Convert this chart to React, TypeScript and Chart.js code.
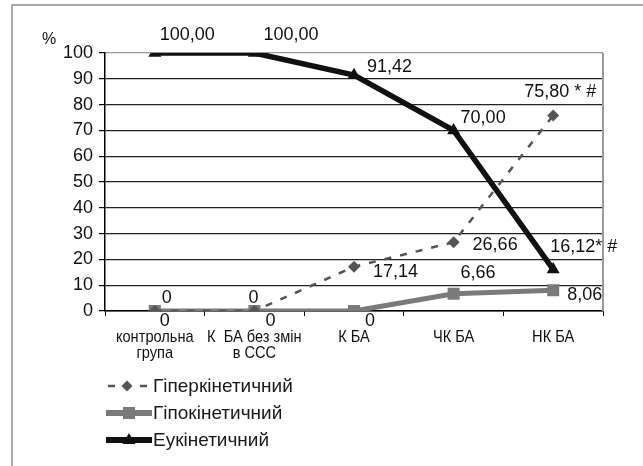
import React, { useEffect, useRef } from 'react';
import { Chart, registerables } from 'chart.js';

Chart.register(...registerables);

// ---- data ----
const categories: (string | string[])[] = [
  ['контрольна', 'група'],
  ['К  БА без змін', 'в ССС'],
  'К БА',
  'ЧК БА',
  'НК БА',
];
const seriesNames = ['Гіперкінетичний', 'Гіпокінетичний', 'Еукінетичний'];
const hyperValues = [0, 0, 17.14, 26.66, 75.8];
const hypoValues = [0, 0, 0, 6.66, 8.06];
const euValues = [100, 100, 91.42, 70.0, 16.12];
const hyperLabels = ['0', '0', '17,14', '26,66', '75,80 * #'];
const hypoLabels = ['0', '0', '0', '6,66', '8,06'];
const euLabels = ['100,00', '100,00', '91,42', '70,00', '16,12* #'];
const yMin = 0;
const yMax = 100;
const yStep = 10;
const yUnit = '%';

// ---- label placement (relative to each point: left edge dx, middle dy) ----
const labelSets = [hyperLabels, hypoLabels, euLabels];
const labelOffsets: number[][][] = [
  [[7, -13], [-6, -13], [19, 5], [19, 3], [-29, -23]],
  [[5, 10], [11, 10], [11, 10], [7, -21], [14, 5]],
  [[5, -18], [9, -18], [13, -8], [7, -12], [-3, -22]],
];

const FONT = '"Liberation Sans", Arial, Helvetica, sans-serif';

const colors = { hyper: '#555555', hypo: '#7a7a7a', eu: '#111111' };

const framePlugin = {
  id: 'frame',
  beforeDraw(chart: any) {
    const ctx = chart.ctx;
    ctx.save();
    ctx.fillStyle = '#ffffff';
    ctx.fillRect(0, 0, chart.width, chart.height);
    ctx.strokeStyle = '#a8a8a8';
    ctx.lineWidth = 2;
    ctx.beginPath();
    ctx.moveTo(12, chart.height);
    ctx.lineTo(12, 5);
    ctx.lineTo(chart.width, 5);
    ctx.stroke();
    ctx.restore();
  },
  beforeDatasetsDraw(chart: any) {
    const { ctx, chartArea } = chart;
    ctx.save();
    ctx.strokeStyle = '#9a9a9a';
    ctx.lineWidth = 2;
    ctx.beginPath();
    ctx.moveTo(chartArea.right, chartArea.top);
    ctx.lineTo(chartArea.right, chartArea.bottom);
    ctx.stroke();
    ctx.restore();
  },
};

// condensed category labels under the x axis
const xLabelPlugin = {
  id: 'xLabels',
  afterDraw(chart: any) {
    const ctx = chart.ctx;
    const xs = chart.scales.x;
    const base = chart.chartArea.bottom;
    ctx.save();
    ctx.font = '17px ' + FONT;
    ctx.fillStyle = '#111';
    ctx.textAlign = 'center';
    ctx.textBaseline = 'alphabetic';
    (chart.data.labels as any[]).forEach((lab, i) => {
      const lines = Array.isArray(lab) ? lab : [lab];
      const x = xs.getPixelForTick(i);
      lines.forEach((ln: string, j: number) => {
        ctx.save();
        ctx.translate(x, base + 31 + j * 15.5);
        ctx.scale(0.86, 1);
        ctx.fillText(ln, 0, 0);
        ctx.restore();
      });
    });
    ctx.restore();
  },
};

const pointLabelPlugin = {
  id: 'pointLabels',
  afterDatasetsDraw(chart: any) {
    const ctx = chart.ctx;
    ctx.save();
    ctx.font = '18px ' + FONT;
    ctx.fillStyle = '#111';
    ctx.textAlign = 'left';
    ctx.textBaseline = 'middle';
    chart.data.datasets.forEach((_ds: any, di: number) => {
      const meta = chart.getDatasetMeta(di);
      meta.data.forEach((pt: any, i: number) => {
        const off = labelOffsets[di][i];
        ctx.fillText(labelSets[di][i], pt.x + off[0], pt.y + off[1]);
      });
    });
    ctx.restore();
  },
};

const legendPlugin = {
  id: 'customLegend',
  afterDraw(chart: any) {
    const ctx = chart.ctx;
    const yScale = chart.scales.y;
    ctx.save();
    // unit label
    ctx.font = '16px ' + FONT;
    ctx.fillStyle = '#111';
    ctx.textAlign = 'left';
    ctx.textBaseline = 'middle';
    ctx.fillText(yUnit, 42, yScale.top - 13);

    const rowY = [386, 413, 440];
    // row 1: dashed + diamond
    ctx.strokeStyle = colors.hyper;
    ctx.lineWidth = 2.5;
    ctx.setLineDash([7, 25]);
    ctx.beginPath();
    ctx.moveTo(108, rowY[0]);
    ctx.lineTo(148, rowY[0]);
    ctx.stroke();
    ctx.setLineDash([]);
    ctx.fillStyle = colors.hyper;
    ctx.beginPath();
    ctx.moveTo(127 - 5.5, rowY[0]);
    ctx.lineTo(127, rowY[0] - 5.5);
    ctx.lineTo(127 + 5.5, rowY[0]);
    ctx.lineTo(127, rowY[0] + 5.5);
    ctx.closePath();
    ctx.fill();
    // row 2: thick gray + square
    ctx.strokeStyle = colors.hypo;
    ctx.lineWidth = 6;
    ctx.beginPath();
    ctx.moveTo(106, rowY[1]);
    ctx.lineTo(152, rowY[1]);
    ctx.stroke();
    ctx.fillStyle = colors.hypo;
    ctx.fillRect(129 - 6, rowY[1] - 6, 12, 12);
    // row 3: thick black + triangle
    ctx.strokeStyle = colors.eu;
    ctx.beginPath();
    ctx.moveTo(106, rowY[2]);
    ctx.lineTo(152, rowY[2]);
    ctx.stroke();
    ctx.fillStyle = colors.eu;
    ctx.beginPath();
    ctx.moveTo(129, rowY[2] - 7);
    ctx.lineTo(129 + 6.5, rowY[2] + 4);
    ctx.lineTo(129 - 6.5, rowY[2] + 4);
    ctx.closePath();
    ctx.fill();

    ctx.font = '19px ' + FONT;
    ctx.fillStyle = '#1a1a1a';
    seriesNames.forEach((n, i) => ctx.fillText(n, 153, rowY[i] + 1));
    ctx.restore();
  },
};

export default function App() {
  const ref = useRef<HTMLCanvasElement | null>(null);

  useEffect(() => {
    if (!ref.current) return;
    const chart = new Chart(ref.current, {
      type: 'line',
      data: {
        labels: categories as any,
        datasets: [
          {
            label: seriesNames[0],
            data: hyperValues,
            borderColor: colors.hyper,
            backgroundColor: colors.hyper,
            borderWidth: 2.5,
            borderDash: [7, 9],
            pointStyle: 'rectRot',
            pointRadius: 6,
            pointBorderWidth: 0,
            pointBackgroundColor: colors.hyper,
            tension: 0,
            fill: false,
          },
          {
            label: seriesNames[1],
            data: hypoValues,
            borderColor: colors.hypo,
            backgroundColor: colors.hypo,
            borderWidth: 5,
            pointStyle: 'rect',
            pointRadius: 8.5,
            pointBorderWidth: 0,
            pointBackgroundColor: colors.hypo,
            tension: 0,
            fill: false,
          },
          {
            label: seriesNames[2],
            data: euValues,
            borderColor: colors.eu,
            backgroundColor: colors.eu,
            borderWidth: 5.5,
            pointStyle: 'triangle',
            pointRadius: 7.5,
            pointBorderWidth: 0,
            pointBackgroundColor: colors.eu,
            tension: 0,
            fill: false,
          },
        ],
      },
      options: {
        animation: false,
        responsive: false,
        devicePixelRatio: 1,
        layout: { padding: { left: 0, top: 53, right: 40, bottom: 0 } },
        plugins: {
          legend: { display: false },
          tooltip: { enabled: false },
          title: { display: false },
        },
        scales: {
          x: {
            type: 'category',
            offset: true,
            grid: {
              display: true,
              drawOnChartArea: false,
              drawTicks: true,
              tickLength: 5,
              offset: true,
              color: '#000',
              lineWidth: 1,
            },
            border: { display: true, color: '#000', width: 1.5 },
            ticks: { display: false, autoSkip: false },
            afterFit: (s: any) => {
              s.height = 155;
            },
          },
          y: {
            min: yMin,
            max: yMax,
            grid: {
              display: true,
              drawOnChartArea: true,
              drawTicks: true,
              tickLength: 6,
              color: (c: any) => (c.tick && c.tick.value === yMax ? '#9a9a9a' : '#222'),
              tickColor: '#000',
              lineWidth: 1.2,
            },
            border: { display: true, color: '#000', width: 1.5 },
            ticks: {
              stepSize: yStep,
              color: '#111',
              font: { family: FONT, size: 18 },
              padding: 6,
            },
            afterFit: (s: any) => {
              s.width = 105;
            },
          },
        },
      },
      plugins: [framePlugin, pointLabelPlugin, xLabelPlugin, legendPlugin],
    } as any);
    return () => chart.destroy();
  }, []);

  return (
    <div style={{ position: 'fixed', left: 0, top: 0, width: 643, height: 466, background: '#fff' }}>
      <canvas ref={ref} width={643} height={466} style={{ display: 'block', width: 643, height: 466 }} />
    </div>
  );
}
